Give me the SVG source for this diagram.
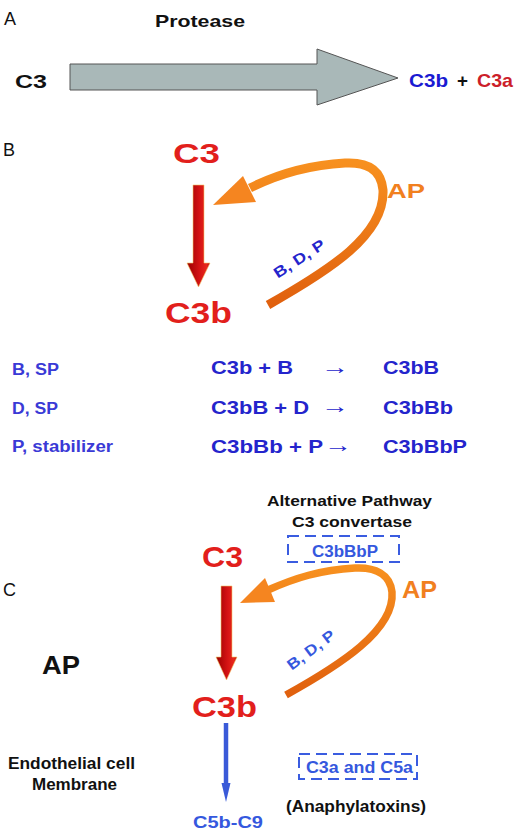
<svg xmlns="http://www.w3.org/2000/svg" width="520" height="836" viewBox="0 0 520 836">
<style>
text{font-family:"Liberation Sans",Arial,sans-serif;font-weight:bold}
.lbl{font-weight:normal;font-size:18px;fill:#111}
.red{fill:#e21f1c}
.org{fill:#f1801f}
.blue{fill:#2424cc}
.lblue{fill:#3a3ad6}
.cblue{fill:#3558de}
.blk{fill:#111}
.arr{fill:#2424cc;font-size:20px}
.dash{fill:none;stroke:#3a5ce0;stroke-width:2;stroke-dasharray:11 6}
.arc{fill:none;stroke:url(#og);stroke-linecap:butt}
</style>
<defs>
<linearGradient id="rg" x1="0" y1="0" x2="1" y2="0">
<stop offset="0" stop-color="#9a0000"/>
<stop offset="0.55" stop-color="#d51414"/>
<stop offset="0.85" stop-color="#e8281c"/>
<stop offset="1" stop-color="#b80606"/>
</linearGradient>
<linearGradient id="og" x1="0" y1="0" x2="0" y2="1">
<stop offset="0" stop-color="#f7901f"/>
<stop offset="1" stop-color="#e0600e"/>
</linearGradient>
</defs>

<!-- Panel A -->
<g id="panelA">
<text class="lbl" x="4" y="25">A</text>
<g id="protease"><text class="blk" x="155" y="27" font-size="17" textLength="90" lengthAdjust="spacingAndGlyphs">Protease</text></g>
<g id="a-c3"><text class="blk" x="15" y="88" font-size="18" textLength="32" lengthAdjust="spacingAndGlyphs">C3</text></g>
<g id="a-products">
<text x="409" y="87" font-size="19" fill="#1a1ad2" textLength="39" lengthAdjust="spacingAndGlyphs">C3b</text>
<text class="blk" x="457" y="87" font-size="19" textLength="11" lengthAdjust="spacingAndGlyphs">+</text>
<text x="477" y="87" font-size="19" fill="#cc1e2a" textLength="36" lengthAdjust="spacingAndGlyphs">C3a</text>
</g>
</g>

<!-- Panel B -->
<g id="panelB">
<text class="lbl" x="3" y="156">B</text>
<g id="b-c3"><text class="red" x="173" y="163" font-size="28" textLength="47" lengthAdjust="spacingAndGlyphs">C3</text></g>
<g id="b-c3b"><text class="red" x="165" y="323" font-size="29" textLength="67" lengthAdjust="spacingAndGlyphs">C3b</text></g>
<g id="b-ap"><text class="org" x="387" y="198" font-size="21" textLength="38" lengthAdjust="spacingAndGlyphs">AP</text></g>
<g id="b-bdp"><text class="blue" font-size="15" text-anchor="middle" transform="translate(302,263) rotate(-33)" textLength="58" lengthAdjust="spacingAndGlyphs">B, D, P</text></g>
<g id="b-reactions">
<text class="lblue" x="12" y="375" font-size="16" textLength="47" lengthAdjust="spacingAndGlyphs">B, SP</text>
<text class="lblue" x="12" y="414" font-size="16" textLength="46" lengthAdjust="spacingAndGlyphs">D, SP</text>
<text class="lblue" x="12" y="452" font-size="16" textLength="101" lengthAdjust="spacingAndGlyphs">P, stabilizer</text>
<text class="blue" x="211" y="374" font-size="18" textLength="82" lengthAdjust="spacingAndGlyphs">C3b + B</text>
<text class="blue" x="211" y="414" font-size="18" textLength="98" lengthAdjust="spacingAndGlyphs">C3bB + D</text>
<text class="blue" x="211" y="453" font-size="18" textLength="112" lengthAdjust="spacingAndGlyphs">C3bBb + P</text>
<text class="arr" x="321" y="374" textLength="28" lengthAdjust="spacingAndGlyphs">→</text>
<text class="arr" x="321" y="413" textLength="28" lengthAdjust="spacingAndGlyphs">→</text>
<text class="arr" x="324" y="452" textLength="28" lengthAdjust="spacingAndGlyphs">→</text>
<text class="blue" x="383" y="374" font-size="18" textLength="56" lengthAdjust="spacingAndGlyphs">C3bB</text>
<text class="blue" x="383" y="414" font-size="18" textLength="70" lengthAdjust="spacingAndGlyphs">C3bBb</text>
<text class="blue" x="383" y="453" font-size="18" textLength="84" lengthAdjust="spacingAndGlyphs">C3bBbP</text>
</g>
</g>

<!-- Panel C -->
<g id="panelC">
<text class="lbl" x="3" y="596">C</text>
<g id="c-convertase">
<text class="blk" x="349.5" y="506" font-size="15" text-anchor="middle" textLength="165" lengthAdjust="spacingAndGlyphs">Alternative Pathway</text>
<text class="blk" x="352" y="527" font-size="15" text-anchor="middle" textLength="120" lengthAdjust="spacingAndGlyphs">C3 convertase</text>
<rect class="dash" x="288" y="536" width="111" height="26"/>
<text class="cblue" x="312" y="557" font-size="16" textLength="66" lengthAdjust="spacingAndGlyphs">C3bBbP</text>
</g>
<g id="c-c3"><text class="red" x="202" y="567" font-size="30" textLength="41" lengthAdjust="spacingAndGlyphs">C3</text></g>
<g id="c-ap"><text class="org" x="402" y="598" font-size="24" textLength="35" lengthAdjust="spacingAndGlyphs">AP</text></g>
<g id="c-bdp"><text class="cblue" font-size="15" text-anchor="middle" transform="translate(314,654) rotate(-37)" textLength="56" lengthAdjust="spacingAndGlyphs">B, D, P</text></g>
<g id="c-apbig"><text class="blk" x="42" y="674" font-size="26" textLength="38" lengthAdjust="spacingAndGlyphs">AP</text></g>
<g id="c-c3b"><text class="red" x="192" y="717" font-size="30" textLength="65" lengthAdjust="spacingAndGlyphs">C3b</text></g>
<g id="c-membrane">
<text class="blk" x="71.5" y="769" font-size="16" text-anchor="middle" textLength="127" lengthAdjust="spacingAndGlyphs">Endothelial cell</text>
<text class="blk" x="74.5" y="790" font-size="16" text-anchor="middle" textLength="85" lengthAdjust="spacingAndGlyphs">Membrane</text>
</g>
<g id="c-anaphylatoxins">
<rect class="dash" x="299" y="754" width="118" height="25"/>
<text class="cblue" x="306" y="773" font-size="16" textLength="107" lengthAdjust="spacingAndGlyphs">C3a and C5a</text>
<text class="blk" x="286" y="812" font-size="17" textLength="140" lengthAdjust="spacingAndGlyphs">(Anaphylatoxins)</text>
</g>
<g id="c-c5b"><text class="cblue" x="193" y="828" font-size="17" textLength="70" lengthAdjust="spacingAndGlyphs">C5b-C9</text></g>
</g>

<!-- Connectors -->
<g id="connectors">
<polygon id="a-arrow" points="70,64 317,64 317,49 398,78 317,105 317,90 70,90" fill="#a9b8b8" stroke="#555" stroke-width="1"/>
<polygon id="b-red" points="193,185 204,185 204,263 210,263 198.5,287 187,263 193,263" fill="url(#rg)" stroke="#f3c86a" stroke-width="0.6"/>
<path id="b-arc" class="arc" stroke-width="9" d="M 268 305 C 330 270, 385 235, 383 190 C 381 168, 365 162, 345 163 C 310 165, 280 173, 250 188"/>
<polygon id="b-arrowhead" points="213,205 243,176 256,202" fill="#f58520"/>
<polygon id="c-red" points="221,586 232,586 232,657 237,657 226.5,680 216,657 221,657" fill="url(#rg)" stroke="#f3c86a" stroke-width="0.6"/>
<path id="c-arc" class="arc" stroke-width="7.5" d="M 286 695 C 340 665, 395 630, 392 592 C 390 574, 375 567, 355 568 C 320 570, 295 578, 268 590"/>
<polygon id="c-arrowhead" points="240,603 265,578 275,602" fill="#f58520"/>
<line x1="226" y1="723" x2="226" y2="785" stroke="#3a5ad8" stroke-width="4.5"/>
<polygon points="221.5,783 230.5,783 226,802" fill="#3a5ad8"/>
</g>
</svg>
